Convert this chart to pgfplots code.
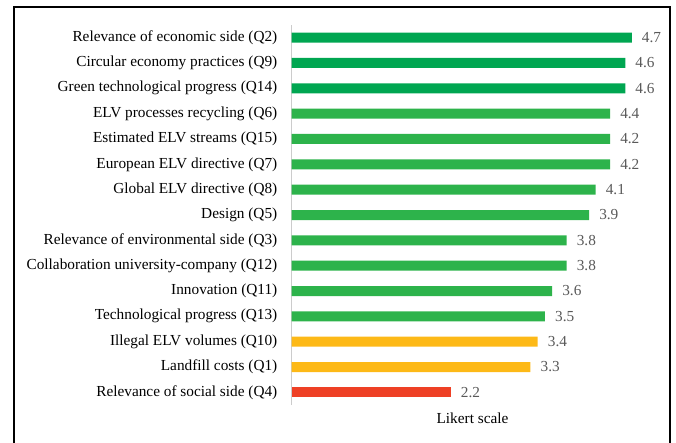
\documentclass[border=0pt]{standalone}
\usepackage{fontspec}
\setmainfont{Liberation Serif}
\usepackage{pgfplots}
\pgfplotsset{compat=1.18}
\definecolor{dgreen}{HTML}{00A651}
\definecolor{lgreen}{HTML}{2DB34B}
\definecolor{byellow}{HTML}{FDB917}
\definecolor{bred}{HTML}{EE4025}
\definecolor{vgray}{HTML}{595959}
\begin{document}
\begin{tikzpicture}
\path[use as bounding box] (0pt,0pt) rectangle (676pt,-443pt);
\draw[line width=1.3pt] (14pt,-450pt) -- (14pt,-7pt) -- (670pt,-7pt) -- (670pt,-450pt);
\begin{axis}[
  at={(291.5pt,-405pt)}, anchor=south west,
  scale only axis, width=362pt, height=380pt,
  xmin=0, xmax=5, ymin=-0.5, ymax=14.5,
  axis x line=none,
  axis y line*=left,
  y axis line style={draw=black!20, line width=1pt, -},
  ytick={0,...,14},
  yticklabels={Relevance of social side (Q4),Landfill costs (Q1),Illegal ELV volumes (Q10),Technological progress (Q13),Innovation (Q11),Collaboration university-company (Q12),Relevance of environmental side (Q3),Design (Q5),Global ELV directive (Q8),European ELV directive (Q7),Estimated ELV streams (Q15),ELV processes recycling (Q6),Green technological progress (Q14),Circular economy practices (Q9),Relevance of economic side (Q2)},
  major tick length=0pt,
  yticklabel style={font=\fontsize{15.3}{18}\selectfont, inner sep=0pt, anchor=east, xshift=-14pt},
  xbar, bar width=10pt, bar shift=0pt,
  point meta=explicit symbolic,
  nodes near coords={\pgfplotspointmeta},
  every node near coord/.append style={font=\fontsize{15.3}{18}\selectfont, text=vgray, anchor=west, inner sep=0pt, xshift=10pt},
  clip=false,
]
\addplot[fill=dgreen, draw=none] coordinates {(4.7,14) [4.7] (4.61,13) [4.6] (4.61,12) [4.6]};
\addplot[fill=lgreen, draw=none] coordinates {(4.4,11) [4.4] (4.4,10) [4.2] (4.4,9) [4.2] (4.2,8) [4.1] (4.11,7) [3.9] (3.8,6) [3.8] (3.8,5) [3.8] (3.6,4) [3.6] (3.5,3) [3.5]};
\addplot[fill=byellow, draw=none] coordinates {(3.4,2) [3.4] (3.3,1) [3.3]};
\addplot[fill=bred, draw=none] coordinates {(2.2,0) [2.2]};
\node[font=\fontsize{15.3}{18}\selectfont, anchor=center] at (rel axis cs:0.5,0) [yshift=-13pt] {Likert scale};
\end{axis}
\end{tikzpicture}
\end{document}
